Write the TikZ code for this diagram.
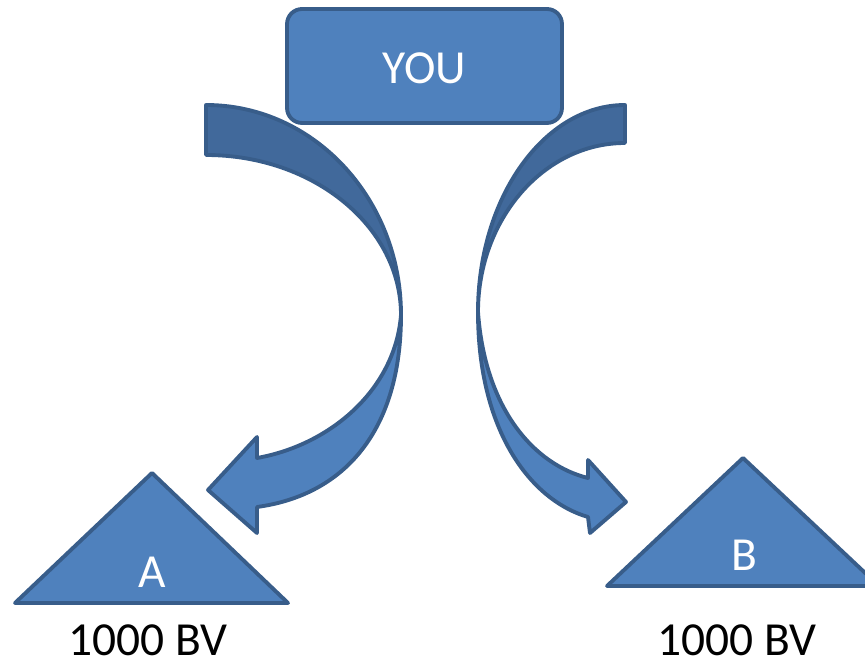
\documentclass[tikz,border=0pt]{standalone}
\usepackage{fontspec}
\setmainfont{Carlito}
\definecolor{faceblue}{HTML}{4F81BD}
\definecolor{edgeblue}{HTML}{385D8A}
\definecolor{backblue}{HTML}{41699B}
\tikzset{
	blueshape/.style={fill=faceblue, draw=edgeblue, line width=2.2pt, line join=round},
	backface/.style={blueshape, fill=backblue},
	bigtext/.style={font=\fontsize{27}{32}\selectfont}
}

\begin{document}
\begin{tikzpicture}[x=0.02cm, y=-0.02cm]
		%%%%% START %%%%%
		\useasboundingbox (0,0) rectangle (865,661);
		
		% left arrow
		\draw[backface] (206,105) .. controls (314,105) and (401,199) .. (401,315) .. controls (401,227) and (314,155) .. (206,155) -- cycle;
		\draw[blueshape] (401,315) .. controls (401,430) and (345,495) .. (257,507) -- (257,533) -- (208,490) -- (257,437) -- (257,458) .. controls (330,445) and (395,390) .. (401,315) -- cycle;
		
		% right arrow
		\draw[backface] (625,105) .. controls (544,105) and (478,198) .. (478,312) .. controls (478,219) and (544,143) .. (625,143) -- cycle;
		\draw[blueshape] (478,312) .. controls (478,430) and (530,500) .. (588,517) -- (590,533) -- (626,502) -- (588,460) -- (588,478) .. controls (535,465) and (485,410) .. (478,312) -- cycle;
		
		\node[blueshape, rounded corners=0.3cm, minimum width=5.5cm, minimum height=2.28cm, text=white, bigtext, text height=0.7cm, text depth=0pt] (you) at (424.5,66) {YOU};
		
		\draw[blueshape] (152,473) -- (288,603) -- (15,603) -- cycle;
		\node[text=white, bigtext] (labA) at (152,572) {A};
		\draw[blueshape] (743,458) -- (879,586) -- (607,586) -- cycle;
		\node[text=white, bigtext] (labB) at (744,555) {B};
		
		\node[bigtext, inner sep=0pt] (bvA) at (148,640) {1000 BV};
		\node[bigtext, inner sep=0pt] (bvB) at (737,640) {1000 BV};
		
		%%%%% END %%%%%
	\end{tikzpicture}
\end{document}
